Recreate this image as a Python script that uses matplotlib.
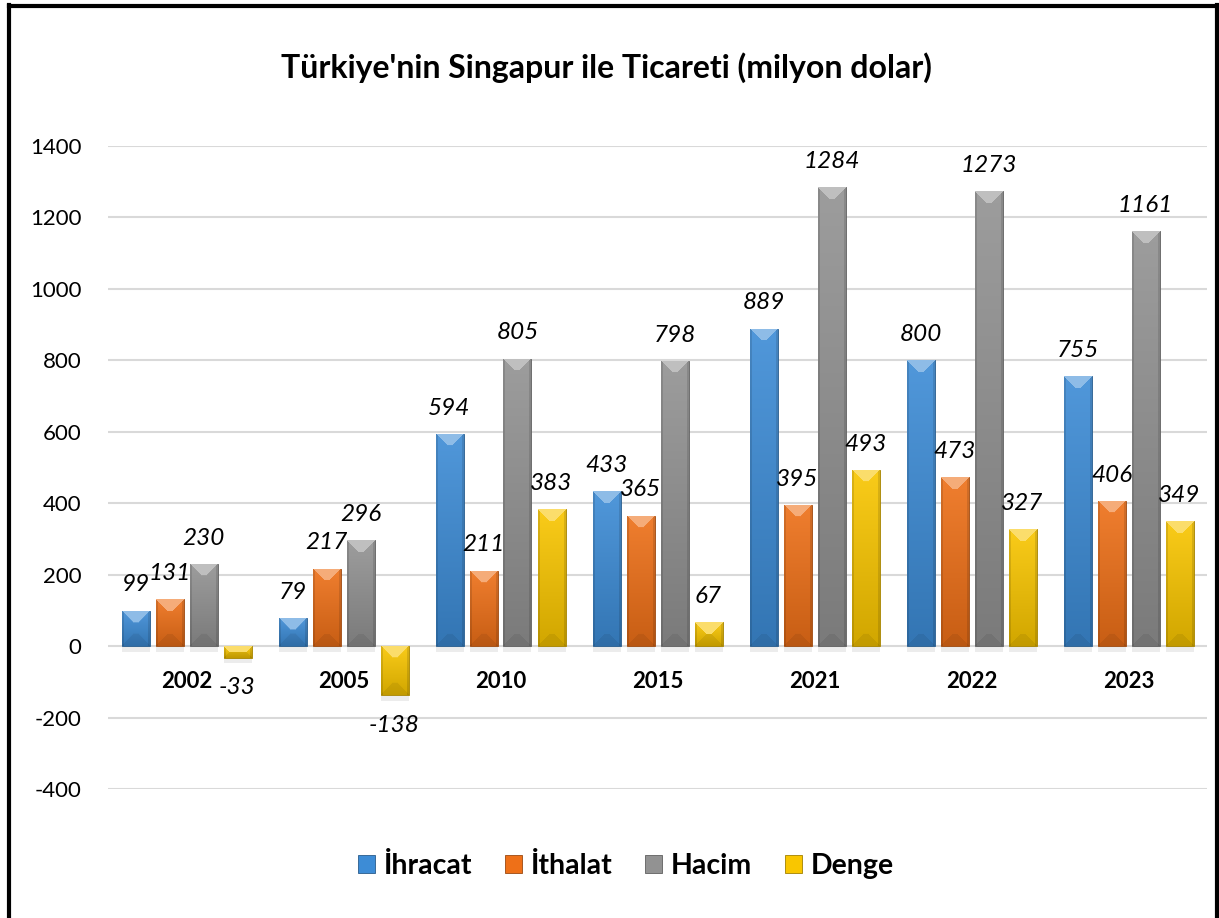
import numpy as np
import matplotlib
matplotlib.use("Agg")
import matplotlib.pyplot as plt
from matplotlib.patches import Patch
from matplotlib.lines import Line2D
from matplotlib import patheffects as pe
from matplotlib.colors import to_rgb

plt.rcParams['font.family'] = ['Lato', 'DejaVu Sans']
plt.rcParams['axes.unicode_minus'] = False

years = ["2002", "2005", "2010", "2015", "2021", "2022", "2023"]
ihracat = [99, 79, 594, 433, 889, 800, 755]
ithalat = [131, 217, 211, 365, 395, 473, 406]
hacim = [230, 296, 805, 798, 1284, 1273, 1161]
denge = [-33, -138, 383, 67, 493, 327, 349]
series_names = ["İhracat", "İthalat", "Hacim", "Denge"]
series_vals = [ihracat, ithalat, hacim, denge]
colors = ["#3d8cd6", "#ee7018", "#929292", "#f9c600"]
title = "Türkiye'nin Singapur ile Ticareti (milyon dolar)"

W, H = 1219, 918
fig = plt.figure(figsize=(W / 100, H / 100), dpi=100)
ax = fig.add_axes([108 / W, 1 - 789 / H, (1207 - 108) / W, (789 - 146) / H])
ax.spines['bottom'].set_position(('data', 0))
for s in ax.spines.values():
    s.set_visible(False)
ax.set_xlim(-0.5, len(years) - 0.5)
ax.set_ylim(-400, 1400)
ax.set_yticks(np.arange(-400, 1401, 200))
ax.grid(axis='y', color='#d9d9d9', linewidth=1.5, zorder=0)
ax.set_axisbelow(True)
x = np.arange(len(years))
ax.set_xticks(x)
ax.set_xticklabels(years, fontsize=16, fontweight='bold')
ax.tick_params(axis='y', length=0, labelsize=16, pad=19, colors='black')
ax.tick_params(axis='x', length=0, pad=18)

bw = 28 / 157
step = 34 / 157


def shade(c, f):
    c = np.array(to_rgb(c))
    if f >= 0:
        return c + (1 - c) * f
    return c * (1 + f)


def bevel_image(color, wpx, hpx, b=12):
    wpx = max(int(round(wpx)), 2)
    hpx = max(int(round(hpx)), 2)
    jj, ii = np.meshgrid(np.arange(wpx), np.arange(hpx))
    dl = jj
    dr = wpx - 1 - jj
    dt = ii
    db = hpx - 1 - ii
    base = np.array(to_rgb(color))
    light = shade(color, 0.10)
    dark = shade(color, -0.16)
    t = (ii / max(hpx - 1, 1))[..., None]
    img = light[None, None, :] * (1 - t) + dark[None, None, :] * t
    d = np.stack([dt, db, dl, dr], axis=-1).astype(float)
    which = np.argmin(d, axis=-1)
    mind = np.min(d, axis=-1)
    inb = mind < b
    img[inb & (which == 0)] = shade(color, 0.42)
    m = inb & (which == 1)
    img[m] = img[m] * 0.93
    side = (np.minimum(dl, dr) < 2) & ~(inb & (which == 0))
    img[side] = img[side] * 0.88
    return np.clip(img, 0, 1)


fig.canvas.draw()
for k, (name, vals, col) in enumerate(zip(series_names, series_vals, colors)):
    pos = x - 1.5 * step + k * step
    bars = ax.bar(pos, vals, width=bw, color=col, edgecolor=shade(col, -0.35),
                  linewidth=0.6, zorder=3, label=name,
                  path_effects=[pe.SimplePatchShadow(offset=(0, -4), alpha=0.15, rho=0.6, shadow_rgbFace='#808080'), pe.Normal()])
    for p, v in zip(bars.patches, vals):
        x0, x1 = p.get_x(), p.get_x() + p.get_width()
        y0, y1 = min(0, v), max(0, v)
        (px0, py0) = ax.transData.transform((x0, y0))
        (px1, py1) = ax.transData.transform((x1, y1))
        img = bevel_image(col, px1 - px0, py1 - py0)
        im = ax.imshow(img, extent=[x0, x1, y0, y1], origin='upper', aspect='auto',
                       zorder=3.5, interpolation='bilinear')
        im.set_clip_path(p)
        if v >= 0:
            ax.annotate(str(v), (p.get_x() + p.get_width() / 2, v), xytext=(0, 11),
                        textcoords='offset points', ha='center', va='bottom',
                        fontsize=17.5, fontstyle='italic', zorder=5)
        else:
            ax.annotate(str(v), (p.get_x() + p.get_width() / 2, v), xytext=(0, -14),
                        textcoords='offset points', ha='center', va='top',
                        fontsize=17.5, fontstyle='italic', zorder=5)

ax.set_xlim(-0.5, len(years) - 0.5)
ax.set_ylim(-400, 1400)

fig.text(606 / W, 1 - 68 / H, title, ha='center', va='center', fontsize=23, fontweight='bold')

handles = [Patch(facecolor=c, edgecolor=shade(c, -0.35), linewidth=0.6) for c in colors]
fig.legend(handles, series_names, loc='center', bbox_to_anchor=(626 / W, 1 - 866 / H), ncol=4,
           frameon=False, handlelength=0.6, handleheight=0.6, columnspacing=1.15,
           handletextpad=0.3, prop={'size': 20.5, 'weight': 'bold'})

# outer frame (left, top, right)
lw = 3.0
fig.add_artist(Line2D([9 / W, 9 / W], [0, 1 - 5 / H], color='black', linewidth=lw, transform=fig.transFigure))
fig.add_artist(Line2D([9 / W, 1216.5 / W], [1 - 5.5 / H, 1 - 5.5 / H], color='black', linewidth=lw, transform=fig.transFigure))
fig.add_artist(Line2D([1216.5 / W, 1216.5 / W], [0, 1 - 5 / H], color='black', linewidth=lw, transform=fig.transFigure))

fig.savefig("out.png", dpi=100)
